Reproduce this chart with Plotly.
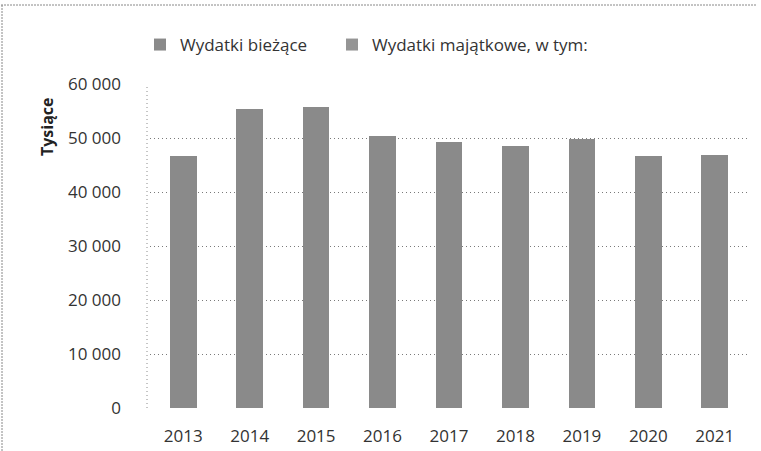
import plotly.graph_objects as go

years = ["2013", "2014", "2015", "2016", "2017", "2018", "2019", "2020", "2021"]
wydatki_biezace = [46700, 55400, 55700, 50400, 49300, 48600, 49800, 46700, 46900]
wydatki_majatkowe = [0, 0, 0, 0, 0, 0, 0, 0, 0]
y_ticks = [0, 10000, 20000, 30000, 40000, 50000, 60000]

W, H = 761, 451
L, R, T, B = 150, 13, 84, 43
pw, ph = W - L - R, H - T - B
FONT = "Open Sans"


def px_x(x):
    return (x - L) / pw


def px_y(y):
    return (H - B - y) / ph


fig = go.Figure()
fig.add_trace(go.Bar(x=years, y=wydatki_biezace, name="Wydatki bieżące",
                     legend="legend",
                     marker=dict(color="#8a8a8a", line=dict(width=0))))
fig.add_trace(go.Bar(x=years, y=wydatki_majatkowe, name="Wydatki majątkowe, w tym:",
                     legend="legend2",
                     marker=dict(color="#959595", line=dict(width=0))))

leg_common = dict(orientation="h", xanchor="left", yanchor="middle",
                  font=dict(size=17, color="#333333"), itemwidth=30,
                  bgcolor="rgba(0,0,0,0)")

fig.update_layout(
    width=W, height=H,
    margin=dict(l=L, r=R, t=T, b=B, autoexpand=False),
    barmode="stack", bargap=0.6,
    plot_bgcolor="white", paper_bgcolor="white",
    separators=", ",
    font=dict(family=FONT, size=17, color="#333333"),
    showlegend=True,
    legend=dict(x=px_x(140), y=px_y(45), **leg_common),
    legend2=dict(x=px_x(332), y=px_y(45), **leg_common),
    xaxis=dict(showgrid=False, showline=False, ticks="", tickfont=dict(size=17),
               ticklabelstandoff=16),
    yaxis=dict(range=[0, 60000], tickvals=y_ticks, tickformat=",d",
               showgrid=True, gridcolor="#7a7a7a", griddash="1px,3px", gridwidth=1,
               zeroline=False, showline=False,
               ticks="", ticklabelstandoff=28, tickfont=dict(size=17)),
)

# dotted left axis line
fig.add_shape(type="line", xref="paper", yref="paper", x0=px_x(147), x1=px_x(147), y0=0, y1=1,
              line=dict(color="#8c8c8c", width=1, dash="1px,3px"))

fig.add_annotation(text="<b>Tysiące</b>", textangle=-90, xref="paper", yref="paper",
                   x=px_x(47), y=px_y(127), xanchor="center", yanchor="middle",
                   showarrow=False, font=dict(size=16, color="#222222"))

# frame lines of the scanned chart (top and left only)
fig.add_shape(type="line", xref="paper", yref="paper",
              x0=px_x(1), x1=px_x(757), y0=px_y(5), y1=px_y(5),
              line=dict(color="#888888", width=1, dash="2px,1px"))
fig.add_shape(type="line", xref="paper", yref="paper",
              x0=px_x(2), x1=px_x(2), y0=px_y(5), y1=px_y(451),
              line=dict(color="#888888", width=1, dash="2px,1px"))

fig.write_html("out.html", config={"displayModeBar": False},
               post_script="document.body.style.margin='0px';")
